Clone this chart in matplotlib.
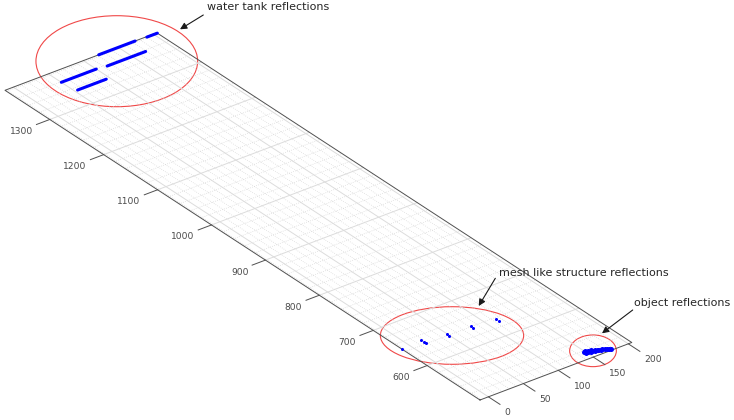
import matplotlib
matplotlib.use("Agg")
import matplotlib.pyplot as plt
import matplotlib.transforms as mtransforms
from matplotlib.patches import Ellipse
import numpy as np

# Axis limits (tight around the data) and ticks
x_lim = (-12, 205)
y_lim = (502, 1383)
x_ticks = [0, 50, 100, 150, 200]
y_ticks = [600, 700, 800, 900, 1000, 1100, 1200, 1300]
x_minor_step = 10
y_minor_step = 20

# Water tank reflections: runs of returns at constant y
tank_x_start = [190, 122, 114, 50, 54]
tank_x_end = [205, 174, 169, 100, 95]
tank_y = [1382, 1383, 1357, 1359, 1334]

# Mesh like structure reflections
mesh_x = [-12, 18, 18, 18, 49, 49, 82, 81, 115, 115]
mesh_y = [647, 650, 645, 641, 643, 638, 641, 636, 638, 632]

# Object reflections
obj_x = [148, 149, 151, 152, 154, 155, 157, 158, 160, 162, 163, 165, 167, 169, 171, 173, 175, 177]
obj_y = [517, 514, 518, 515, 517, 513, 516, 514, 512, 514, 511, 512, 510, 511, 508, 507, 506, 505]

# View: pixel position of three corners of the x-y plane
corner_origin = (480.0, 400.0)   # (xmin, ymin)
corner_xmax = (631.8, 342.5)     # (xmax, ymin)
corner_ymax = (5.0, 90.3)        # (xmin, ymax)

axis_col = "#505050"
tick_text_col = "#4a4a4a"
text_col = "#262626"

fig = plt.figure(figsize=(7.34, 4.2), dpi=100)
ax = fig.add_axes([0, 0, 1, 1])
ax.set_xlim(0, 734)
ax.set_ylim(420, 0)
ax.axis("off")

# affine "camera" mapping data (x, y) -> pixel
x0, x1 = x_lim
y0, y1 = y_lim
a = (corner_xmax[0] - corner_origin[0]) / (x1 - x0)
b = (corner_xmax[1] - corner_origin[1]) / (x1 - x0)
c = (corner_ymax[0] - corner_origin[0]) / (y1 - y0)
d = (corner_ymax[1] - corner_origin[1]) / (y1 - y0)
e = corner_origin[0] - a * x0 - c * y0
f = corner_origin[1] - b * x0 - d * y0
T = mtransforms.Affine2D().from_values(a, b, c, d, e, f) + ax.transData

#############
# Grid      #
#############
for xv in np.arange(-10, x1, x_minor_step):
	if xv in x_ticks:
		continue
	ax.plot([xv, xv], [y0, y1], transform=T, color="#cfcfcf", lw=0.5, ls=(0, (1, 2)))
for yv in np.arange(520, y1, y_minor_step):
	if yv in y_ticks:
		continue
	ax.plot([x0, x1], [yv, yv], transform=T, color="#cfcfcf", lw=0.5, ls=(0, (1, 2)))
for xv in x_ticks:
	ax.plot([xv, xv], [y0, y1], transform=T, color="#dcdcdc", lw=0.7)
for yv in y_ticks:
	ax.plot([x0, x1], [yv, yv], transform=T, color="#dcdcdc", lw=0.7)

# plane outline
ax.plot([x0, x1, x1, x0, x0], [y0, y0, y1, y1, y0], transform=T, color=axis_col, lw=0.7)

# ticks and labels
x_lab_tr = mtransforms.offset_copy(T, fig=fig, x=15.5, y=-16, units="dots")
for xv in x_ticks:
	ax.plot([xv, xv], [y0, y0 - 21.5], transform=T, color=axis_col, lw=0.7)
	ax.text(xv, y0, str(xv), transform=x_lab_tr, ha="left", va="center",
			fontsize=6.6, color=tick_text_col)
y_lab_tr = mtransforms.offset_copy(T, fig=fig, x=-17, y=-12, units="dots")
for yv in y_ticks:
	ax.plot([x0, x0 - 19], [yv, yv], transform=T, color=axis_col, lw=0.7)
	ax.text(x0, yv, str(yv), transform=y_lab_tr, ha="right", va="center",
			fontsize=6.6, color=tick_text_col)

#############
# Data      #
#############
for xs, xe, yv in zip(tank_x_start, tank_x_end, tank_y):
	ax.plot([xs, xe], [yv, yv], transform=T, color="#0000ff", lw=2.2, solid_capstyle="round")
ax.plot(mesh_x, mesh_y, "o", transform=T, color="#0000ff", ms=2.2, mew=0)
ax.plot(obj_x, obj_y, "o", transform=T, color="#0000ff", ms=3.6, mew=0)

#############
# Annotate  #
#############
red = "#f04848"
ax.add_patch(Ellipse((116.8, 61.2), 161.7, 91, fill=False, edgecolor=red, lw=0.8))
ax.add_patch(Ellipse((452, 335.5), 143.3, 57.6, fill=False, edgecolor=red, lw=0.8))
ax.add_patch(Ellipse((593, 350.8), 46.7, 31.7, fill=False, edgecolor=red, lw=0.8))

arrow = dict(arrowstyle="-|>", color="#1a1a1a", lw=0.8, mutation_scale=10, shrinkA=0, shrinkB=0)
ax.annotate("", xy=(180, 29.3), xytext=(203.3, 15), arrowprops=arrow)
ax.annotate("", xy=(478.7, 306), xytext=(495.3, 278.3), arrowprops=arrow)
ax.annotate("", xy=(602, 333.3), xytext=(632.7, 310), arrowprops=arrow)

ax.text(207.3, 7.3, "water tank reflections", ha="left", va="center", fontsize=8, color=text_col)
ax.text(498.7, 272.7, "mesh like structure reflections", ha="left", va="center", fontsize=8, color=text_col)
ax.text(633.7, 303.3, "object reflections", ha="left", va="center", fontsize=8, color=text_col)

fig.savefig("out.png", dpi=100)
